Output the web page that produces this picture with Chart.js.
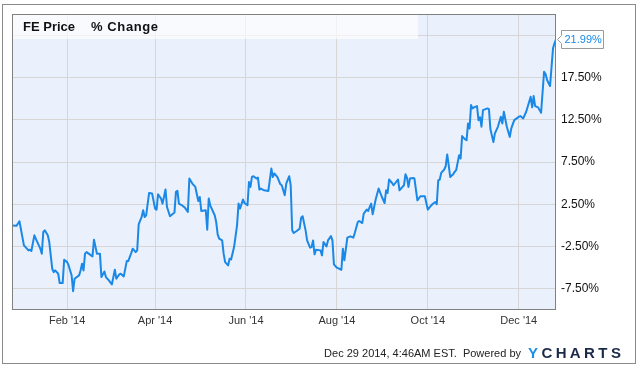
<!DOCTYPE html>
<html>
<head>
<meta charset="utf-8">
<title>FE Price % Change</title>
<script src="https://cdn.jsdelivr.net/npm/chart.js@4.4.1/dist/chart.umd.min.js"></script>
<style>
  html, body { margin: 0; padding: 0; background: #fff; }
  #wrap { position: relative; width: 640px; height: 370px; }
</style>
</head>
<body>
<div id="wrap"><canvas id="feChart" width="640" height="370"></canvas></div>
<script>
// days since 2013-12-26
const tradeDays = [
    0, 3, 5, 8, 10, 11, 12, 13, 15, 17, 19, 20, 21, 22, 24, 25, 27, 28, 29, 31,
    32, 34, 35, 37, 38, 40, 41, 42, 45, 46, 47, 48, 49, 50, 54, 55, 57, 59, 60, 62,
    63, 65, 67, 69, 70, 72, 73, 75, 77, 78, 80, 81, 83, 84, 85, 87, 88, 89, 90, 92,
    94, 96, 97, 98, 100, 101, 103, 104, 106, 109, 110, 111, 112, 114, 116, 118, 119, 121, 123, 125,
    126, 127, 130, 131, 132, 133, 136, 137, 138, 139, 141, 142, 143, 145, 146, 147, 149, 151, 152, 153,
    155, 156, 158, 159, 160, 161, 162, 164, 165, 166, 167, 169, 172, 174, 175, 176, 178, 180, 181, 183,
    184, 186, 187, 188, 189, 191, 193, 194, 195, 197, 198, 200, 201, 202, 203, 204, 207, 208, 209, 211,
    212, 214, 215, 216, 218, 221, 222, 223, 225, 227, 229, 230, 232, 233, 235, 236, 238, 239, 240, 241,
    242, 244, 246, 248, 250, 251, 252, 253, 255, 256, 259, 260, 262, 263, 264, 265, 266, 267, 269, 270,
    272, 274, 277, 279, 280, 282, 284, 285, 286, 287, 288, 290, 291, 292, 293, 294, 296, 297, 298, 300,
    301, 302, 304, 305, 306, 307, 308, 309, 310, 312, 313, 314, 315, 316, 319, 320, 321, 323, 324, 326,
    328, 329, 330, 332, 334, 335, 337, 340, 341, 343, 345, 348, 349, 350, 351, 353, 355, 357, 358, 359,
    361, 363, 364, 365
];
const pctChange = [
    0.00, -0.05, 0.49, -2.36, -2.75, -2.95, -2.87, -3.03, -1.17, -1.97, -2.75, -3.34, -0.78, -0.58, -1.17, -1.97, -5.12, -5.52, -5.32, -5.71,
    -6.82, -6.82, -4.05, -4.34, -4.73, -5.91, -7.77, -6.30, -5.91, -5.32, -4.53, -5.32, -3.34, -3.15, -3.66, -1.68, -3.34, -3.34, -6.11, -5.44,
    -6.11, -6.50, -6.98, -5.24, -6.30, -5.79, -5.71, -6.03, -4.22, -4.22, -3.27, -2.75, -3.15, -2.95, 0.13, 1.00, 1.79, 1.00, 1.20, 3.84,
    3.77, 1.99, 1.87, 3.68, 3.18, 2.58, 4.24, 2.18, 1.08, 1.52, 3.96, 4.08, 2.58, 2.38, 2.11, 1.59, 5.55, 4.95, 4.55, 2.89,
    3.36, 1.71, 1.79, -0.50, 3.18, 2.38, 1.20, 0.40, -1.05, -1.56, -1.77, -3.34, -4.34, -4.73, -3.93, -4.02, -2.56, 0.01, 2.58, 1.99,
    3.06, 2.65, 2.38, 5.14, 4.55, 5.73, 5.82, 5.54, 5.66, 4.24, 4.36, 4.16, 4.08, 6.73, 5.73, 6.14, 5.73, 4.87, 4.75, 3.57,
    4.95, 5.82, 4.75, -0.58, -0.90, -0.66, -0.38, 0.92, 1.08, -0.58, -1.77, -2.63, -2.56, -1.77, -3.42, -2.87, -2.95, -3.54, -1.97, -2.48,
    -1.77, -1.26, -1.77, -4.61, -5.00, -5.24, -2.75, -4.13, -1.45, -1.29, -1.45, -0.90, 0.40, 0.52, 0.28, 1.40, 1.87, 1.71, 2.18, 2.58,
    1.32, 3.06, 4.36, 3.45, 2.65, 4.16, 3.84, 5.43, 5.02, 4.75, 5.43, 4.16, 4.55, 4.75, 6.05, 5.66, 4.55, 5.55, 5.62, 5.55,
    2.97, 3.45, 3.45, 1.87, 2.11, 2.50, 2.77, 2.50, 5.34, 5.43, 6.21, 6.61, 7.00, 8.39, 7.12, 5.73, 6.05, 6.33, 6.53, 8.31,
    7.91, 10.56, 10.17, 10.08, 12.06, 11.47, 14.23, 13.84, 13.96, 14.11, 12.45, 12.80, 11.68, 13.64, 13.84, 13.76, 11.39, 9.85, 10.88, 11.66,
    12.84, 12.06, 13.44, 11.66, 10.47, 11.47, 12.45, 12.84, 12.93, 12.65, 13.44, 15.21, 13.96, 15.30, 14.11, 13.96, 13.32, 18.18, 17.90, 17.19,
    16.48, 20.95, 21.54, 21.99
];
const xTickDays = [37, 96, 157, 218, 279, 340];
const xTickLabels = ["Feb '14", "Apr '14", "Jun '14", "Aug '14", "Oct '14", "Dec '14"];
const yTicks = [-7.5, -2.5, 2.5, 7.5, 12.5, 17.5, 22.5];
const titleParts = ['FE Price', '% Change'];
const footerText = 'Dec 29 2014, 4:46AM EST.  Powered by';
const logoLetters = ['Y', 'C', 'H', 'A', 'R', 'T', 'S'];

const FONT = "'Liberation Sans', Arial, sans-serif";
const LINE_BLUE = '#1a88e6';

// background, plot frame, title box, end-value flag and footer
const framePlugin = {
    id: 'frame',
    beforeDraw(chart) {
        const { ctx, chartArea: a } = chart;
        ctx.save();
        ctx.fillStyle = '#fff';
        ctx.fillRect(0, 0, chart.width, chart.height);
        ctx.fillStyle = '#eaf0fc';
        ctx.fillRect(a.left, a.top, a.right - a.left, a.bottom - a.top);
        ctx.restore();
    },
    afterDraw(chart) {
        const { ctx, chartArea: a } = chart;
        ctx.save();

        // title box over the plot
        ctx.fillStyle = 'rgba(255, 255, 255, 0.65)';
        ctx.fillRect(a.left, a.top, 406, 25);
        ctx.fillStyle = '#111';
        ctx.font = 'bold 13px ' + FONT;
        ctx.textBaseline = 'alphabetic';
        ctx.fillText(titleParts[0], 23, 31);
        ctx.letterSpacing = '0.6px';
        ctx.fillText(titleParts[1], 91, 31);
        ctx.letterSpacing = '0px';

        // plot border
        ctx.strokeStyle = '#808080';
        ctx.lineWidth = 1;
        ctx.strokeRect(a.left + 0.5, a.top + 0.5, a.right - a.left - 1, a.bottom - a.top - 1);

        // flag with the last value
        const n = tradeDays.length - 1;
        const px = chart.scales.x.getPixelForValue(tradeDays[n]);
        const py = chart.scales.y.getPixelForValue(pctChange[n]);
        const bx = Math.round(px) + 5.5, top = Math.round(py) - 8.5, bw = 42, bh = 18;
        ctx.beginPath();
        ctx.moveTo(bx, top);
        ctx.lineTo(bx + bw, top);
        ctx.lineTo(bx + bw, top + bh);
        ctx.lineTo(bx, top + bh);
        ctx.lineTo(bx, py + 4);
        ctx.lineTo(bx - 4, py);
        ctx.lineTo(bx, py - 4);
        ctx.closePath();
        ctx.fillStyle = '#fff';
        ctx.fill();
        ctx.strokeStyle = '#9a9a9a';
        ctx.stroke();
        ctx.fillStyle = LINE_BLUE;
        ctx.font = '11px ' + FONT;
        ctx.textBaseline = 'middle';
        ctx.fillText(pctChange[n].toFixed(2) + '%', bx + 3, top + bh / 2 + 0.5);

        // footer
        ctx.textBaseline = 'alphabetic';
        ctx.fillStyle = '#222';
        ctx.font = '11px ' + FONT;
        ctx.textAlign = 'right';
        ctx.fillText(footerText, 521, 357);
        ctx.textAlign = 'left';
        ctx.font = 'bold 15px ' + FONT;
        let lx = 528;
        logoLetters.forEach((ch, i) => {
            ctx.fillStyle = i === 0 ? '#1a8fe6' : '#1c2a48';
            ctx.fillText(ch, lx, 357.5);
            lx += ctx.measureText(ch).width + 3.4;
        });

        // outer frame
        ctx.strokeStyle = '#8a8a8a';
        ctx.strokeRect(2.5, 4.5, 633, 359);
        ctx.restore();
    }
};

function initializeChart() {
    const ctx = document.getElementById('feChart').getContext('2d');
    const points = tradeDays.map((d, i) => ({ x: d, y: pctChange[i] }));

    new Chart(ctx, {
        type: 'line',
        data: {
            datasets: [{
                label: 'FE Price % Change',
                data: points,
                borderColor: LINE_BLUE,
                borderWidth: 2,
                borderJoinStyle: 'round',
                pointRadius: 0,
                tension: 0,
                fill: false
            }]
        },
        options: {
            responsive: false,
            animation: false,
            devicePixelRatio: 1,
            layout: {
                padding: { left: 12, top: 14, right: 0, bottom: 0 }
            },
            plugins: {
                legend: { display: false },
                tooltip: { enabled: false }
            },
            scales: {
                x: {
                    type: 'linear',
                    min: 0,
                    max: 365,
                    afterBuildTicks: function(scale) {
                        scale.ticks = xTickDays.map(v => ({ value: v }));
                    },
                    afterFit: function(scale) {
                        scale.height = 60;
                    },
                    grid: {
                        color: '#d6d6d6',
                        drawTicks: false
                    },
                    border: { display: false },
                    ticks: {
                        padding: 4,
                        maxRotation: 0,
                        autoSkip: false,
                        color: '#333',
                        font: { family: FONT, size: 11 },
                        callback: function(value) {
                            const i = xTickDays.indexOf(value);
                            return i >= 0 ? xTickLabels[i] : '';
                        }
                    }
                },
                y: {
                    position: 'right',
                    min: -10,
                    max: 25,
                    afterBuildTicks: function(scale) {
                        scale.ticks = yTicks.map(v => ({ value: v }));
                    },
                    afterFit: function(scale) {
                        scale.width = 84;
                    },
                    grid: {
                        color: '#d6d6d6',
                        drawTicks: false
                    },
                    border: { display: false },
                    ticks: {
                        padding: 5,
                        color: '#111',
                        font: { family: FONT, size: 12 },
                        callback: function(value) {
                            // top label is hidden behind the value flag
                            return value === 22.5 ? '' : value.toFixed(2) + '%';
                        }
                    }
                }
            }
        },
        plugins: [framePlugin]
    });
}

document.addEventListener('DOMContentLoaded', initializeChart);
</script>
</body>
</html>
